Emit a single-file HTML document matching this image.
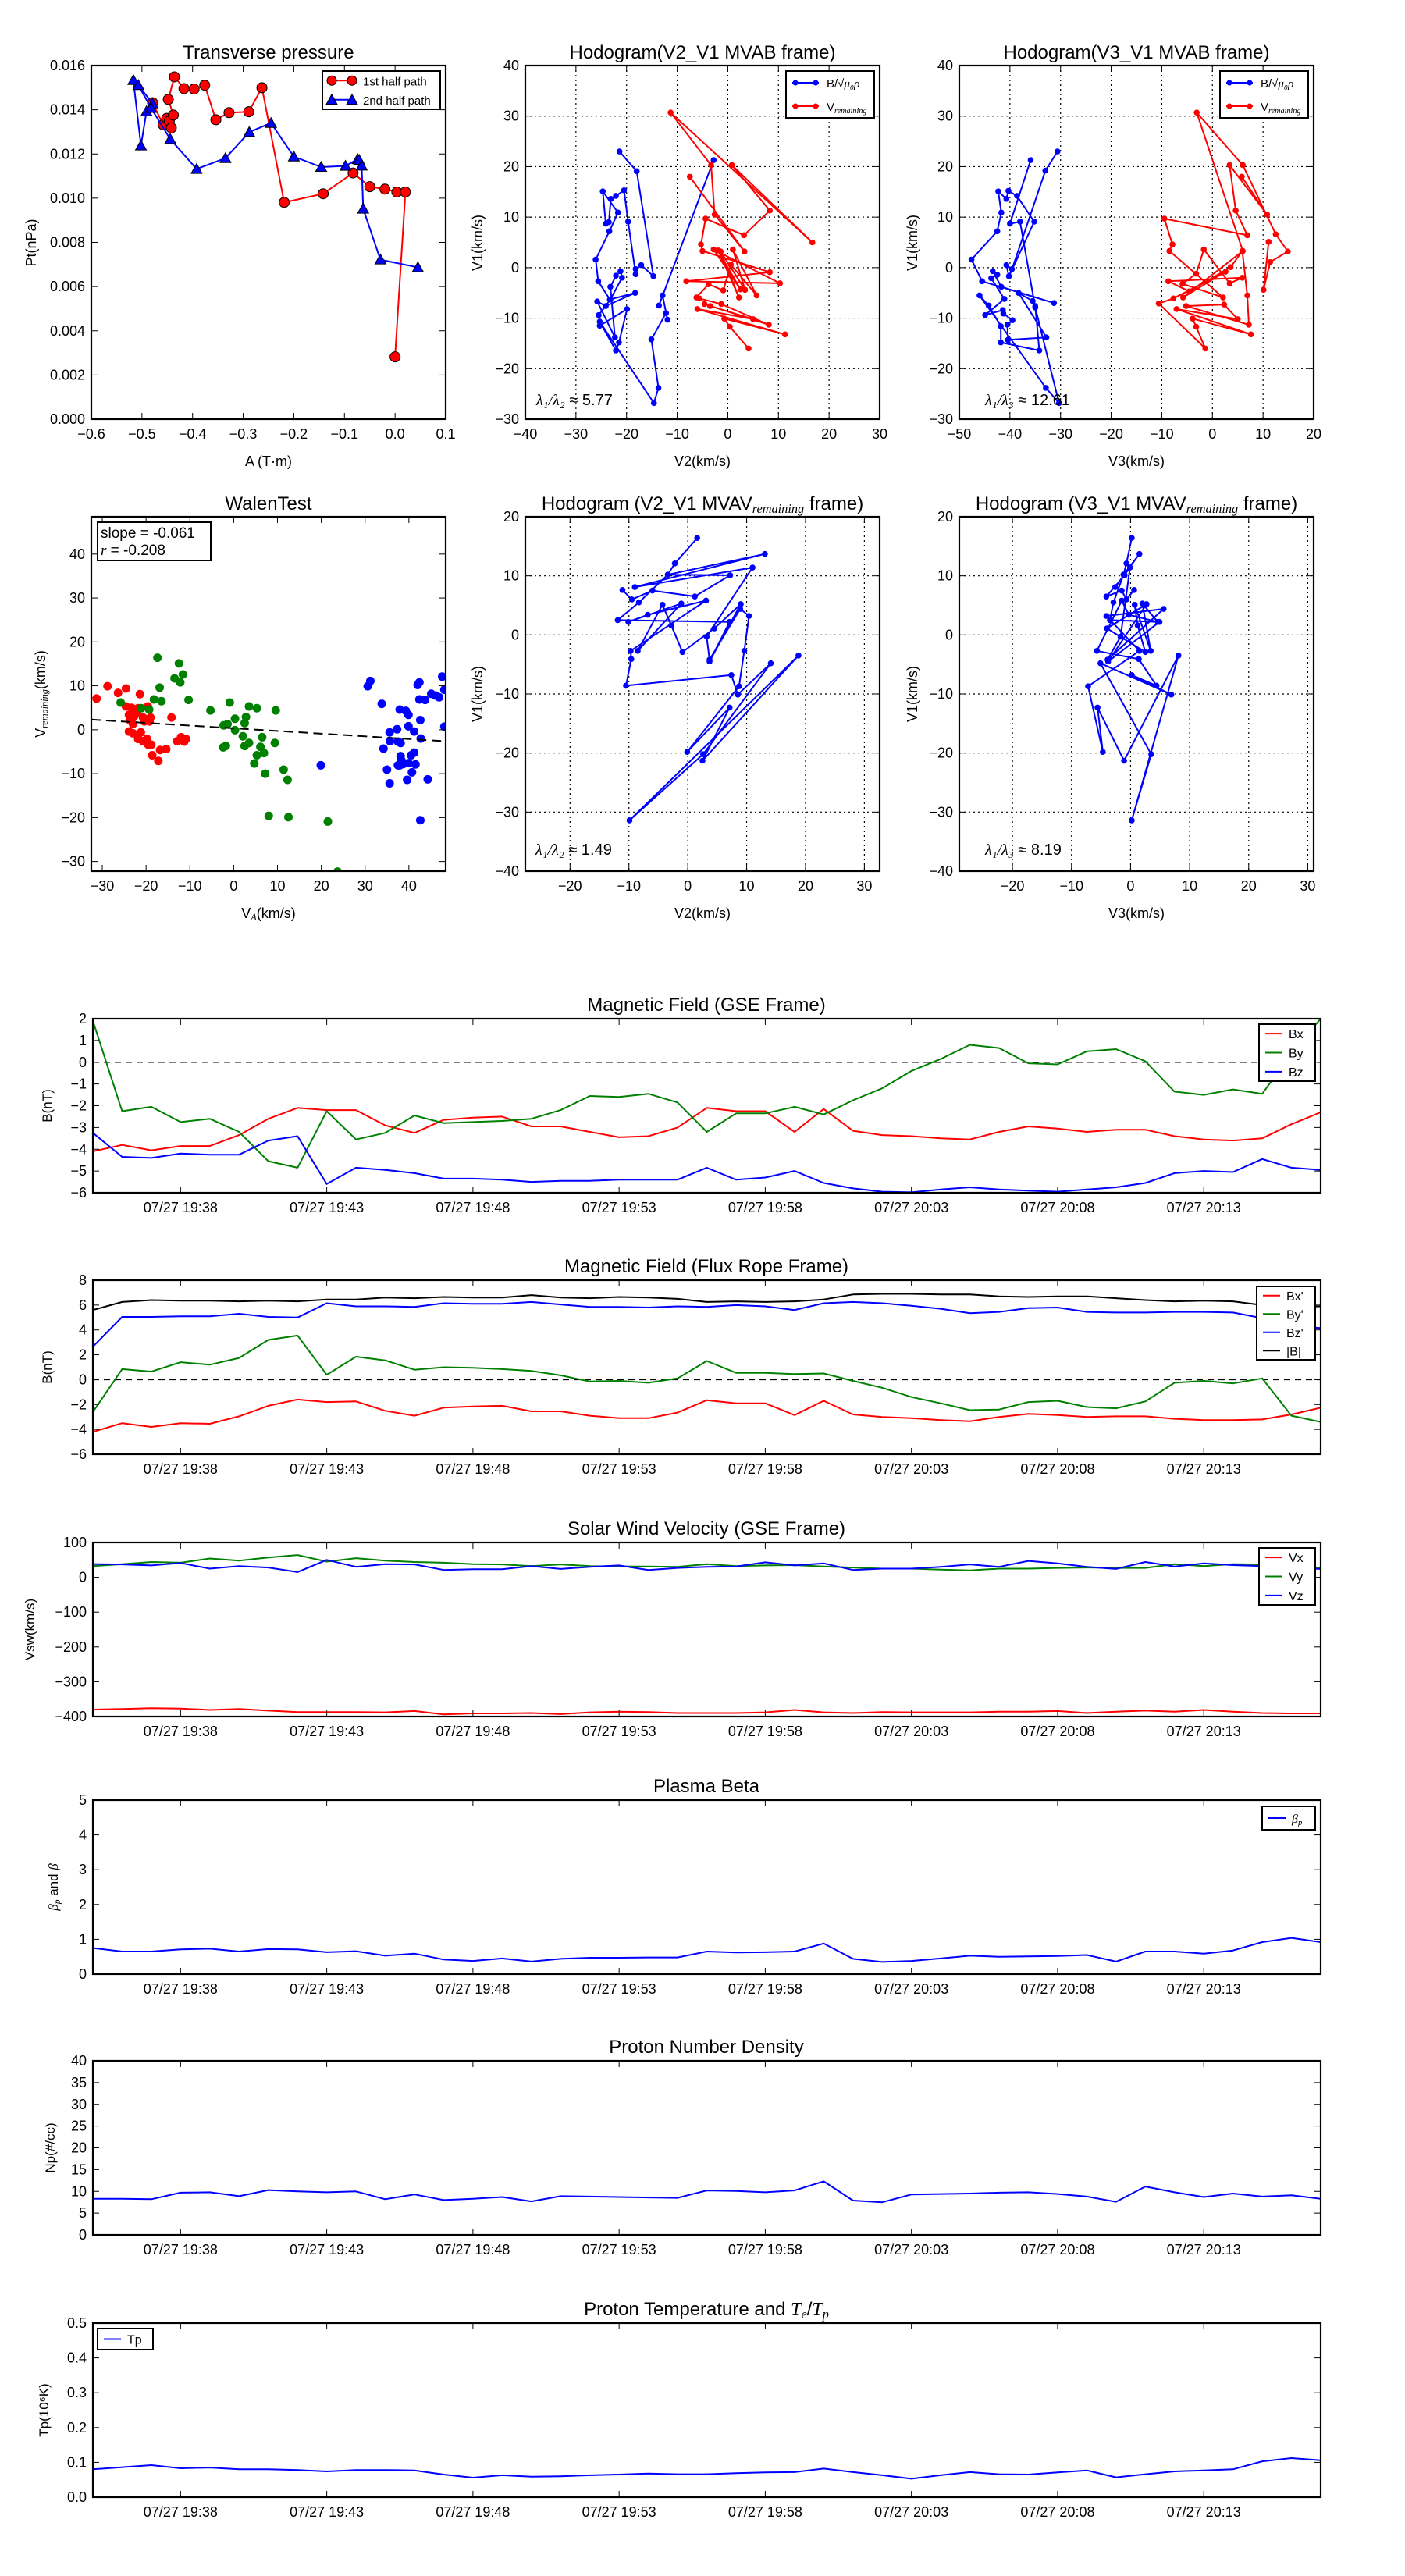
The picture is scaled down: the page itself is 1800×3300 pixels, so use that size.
<!DOCTYPE html>
<html><head><meta charset="utf-8"><title>Flux rope analysis</title>
<style>html,body{margin:0;padding:0;background:#fff}svg{display:block}</style></head>
<body>
<svg id="fig" xmlns="http://www.w3.org/2000/svg" width="1800" height="3300" viewBox="0 0 1800 3300" style="background:#fff"><defs id="defs"></defs></svg>
<script>
// ---------- DATA ----------
const tsTimes=['07/27 19:38','07/27 19:43','07/27 19:48','07/27 19:53','07/27 19:58','07/27 20:03','07/27 20:08','07/27 20:13'];
const tsTickIdx=[3,8,13,18,23,28,33,38];
const gseBx=[-4.1,-3.8,-4.05,-3.85,-3.85,-3.35,-2.6,-2.1,-2.2,-2.2,-2.9,-3.25,-2.65,-2.55,-2.5,-2.95,-2.95,-3.2,-3.45,-3.4,-3.0,-2.1,-2.25,-2.25,-3.2,-2.15,-3.15,-3.35,-3.4,-3.5,-3.55,-3.2,-2.95,-3.05,-3.2,-3.1,-3.1,-3.4,-3.55,-3.6,-3.5,-2.85,-2.3];
const gseBy=[1.9,-2.25,-2.05,-2.75,-2.6,-3.2,-4.55,-4.85,-2.25,-3.55,-3.25,-2.45,-2.8,-2.75,-2.7,-2.6,-2.2,-1.55,-1.6,-1.45,-1.85,-3.2,-2.35,-2.35,-2.05,-2.4,-1.75,-1.2,-0.4,0.15,0.8,0.65,-0.05,-0.1,0.5,0.6,0.05,-1.35,-1.5,-1.25,-1.45,0.4,2.0];
const gseBz=[-3.25,-4.35,-4.4,-4.2,-4.25,-4.25,-3.6,-3.4,-5.6,-4.85,-4.95,-5.1,-5.35,-5.35,-5.4,-5.5,-5.45,-5.45,-5.4,-5.4,-5.4,-4.85,-5.4,-5.3,-5.0,-5.55,-5.8,-5.95,-5.98,-5.85,-5.75,-5.85,-5.9,-5.95,-5.85,-5.75,-5.55,-5.1,-5.0,-5.05,-4.45,-4.85,-4.95];
const frBx=[-4.2,-3.5,-3.8,-3.5,-3.55,-2.95,-2.1,-1.6,-1.8,-1.75,-2.5,-2.9,-2.25,-2.15,-2.1,-2.55,-2.55,-2.9,-3.1,-3.1,-2.65,-1.65,-1.9,-1.9,-2.85,-1.7,-2.8,-3.0,-3.1,-3.25,-3.35,-3.0,-2.75,-2.85,-3.0,-2.95,-2.95,-3.15,-3.25,-3.25,-3.2,-2.8,-2.25];
const frBy=[-2.6,0.85,0.65,1.4,1.2,1.75,3.2,3.55,0.4,1.85,1.55,0.8,1.0,0.95,0.85,0.7,0.35,-0.15,-0.1,-0.25,0.1,1.5,0.55,0.55,0.45,0.5,-0.1,-0.65,-1.4,-1.9,-2.45,-2.4,-1.8,-1.7,-2.2,-2.3,-1.75,-0.25,-0.1,-0.3,0.1,-2.9,-3.4];
const frBz=[2.65,5.05,5.05,5.1,5.1,5.3,5.05,5.0,6.15,5.9,5.9,5.85,6.15,6.1,6.1,6.25,6.05,5.85,5.85,5.8,5.9,5.85,6.0,5.9,5.6,6.15,6.25,6.15,5.95,5.7,5.35,5.45,5.75,5.8,5.45,5.4,5.4,5.45,5.45,5.4,4.95,4.3,4.15];
const frBt=[5.6,6.25,6.4,6.35,6.35,6.3,6.35,6.3,6.45,6.45,6.6,6.55,6.65,6.6,6.6,6.8,6.6,6.55,6.65,6.6,6.5,6.25,6.3,6.25,6.3,6.45,6.85,6.9,6.9,6.85,6.85,6.7,6.65,6.7,6.7,6.55,6.4,6.3,6.35,6.3,6.0,5.85,5.9];
const velVx=[-380,-378,-376,-377,-381,-378,-383,-387,-387,-387,-388,-384,-394,-391,-391,-390,-393,-388,-386,-387,-390,-390,-390,-388,-381,-388,-390,-387,-388,-388,-388,-386,-386,-384,-390,-386,-383,-386,-381,-386,-390,-391,-391];
const velVy=[32,38,44,42,54,48,57,64,45,55,48,44,42,38,37,32,37,32,31,31,30,38,32,34,35,31,28,25,25,22,20,25,25,27,28,27,27,38,32,38,37,34,27];
const velVz=[38,37,34,41,25,32,28,15,50,30,38,37,21,23,23,32,24,30,34,21,27,30,31,43,34,40,21,25,25,30,37,30,47,40,30,24,44,31,40,35,32,27,24];
const betaP=[0.75,0.65,0.65,0.71,0.73,0.65,0.72,0.71,0.63,0.66,0.53,0.59,0.42,0.38,0.45,0.36,0.44,0.47,0.47,0.48,0.48,0.65,0.62,0.63,0.65,0.88,0.44,0.35,0.38,0.45,0.53,0.5,0.51,0.52,0.55,0.36,0.65,0.65,0.59,0.68,0.92,1.04,0.92];
const densNp=[8.3,8.3,8.2,9.7,9.8,8.9,10.3,10.0,9.8,10.0,8.2,9.3,8.0,8.3,8.7,7.7,8.9,8.8,8.7,8.6,8.5,10.2,10.1,9.8,10.2,12.3,7.9,7.5,9.3,9.4,9.5,9.7,9.8,9.4,8.8,7.6,11.1,9.8,8.7,9.5,8.8,9.1,8.3];
const tempTp=[0.080,0.086,0.092,0.083,0.085,0.080,0.080,0.078,0.074,0.078,0.078,0.077,0.065,0.056,0.063,0.059,0.060,0.063,0.065,0.068,0.066,0.066,0.069,0.071,0.072,0.082,0.072,0.063,0.053,0.063,0.072,0.066,0.065,0.071,0.077,0.057,0.066,0.074,0.077,0.080,0.103,0.112,0.106];

const tp1A=[-0.479,-0.458,-0.451,-0.446,-0.442,-0.438,-0.448,-0.436,-0.417,-0.397,-0.376,-0.354,-0.328,-0.289,-0.263,-0.219,-0.142,-0.083,-0.050,-0.020,0.0035,0.0204,0.0];
const tp1P=[0.01432,0.01332,0.01361,0.01349,0.01318,0.01376,0.01447,0.01549,0.01496,0.01494,0.01511,0.01355,0.01387,0.01391,0.01500,0.00981,0.01020,0.01114,0.01052,0.01041,0.01028,0.01028,0.00282];
const tp2A=[-0.517,-0.502,-0.491,-0.479,-0.507,-0.482,-0.444,-0.392,-0.335,-0.288,-0.245,-0.200,-0.146,-0.098,-0.074,-0.071,-0.066,-0.063,-0.029,0.045];
const tp2P=[0.01534,0.01238,0.01393,0.01428,0.01511,0.01408,0.01267,0.01132,0.01181,0.01299,0.01340,0.01188,0.01141,0.01146,0.01176,0.01173,0.01147,0.00952,0.00722,0.00687];

const h1Bx=[-21.4,-18.0,-14.7,-17.1,-18.2,-18.2,-19.7,-20.5,-22.1,-23.1,-23.5,-24.1,-24.7,-21.7,-23.4,-26.1,-25.6,-23.3,-18.3,-24.1,-25.8,-22.3,-23.2,-22.1,-21.2,-20.9,-23.2,-25.5,-25.3,-19.9,-21.5,-22.1,-25.3,-14.6,-13.7,-15.1,-12.2,-11.9,-12.9,-13.6,-2.8];
const h1By=[23.0,19.1,-1.7,0.5,-0.3,-1.3,9.1,15.3,14.2,13.6,9.0,8.7,15.1,10.9,7.2,1.6,-2.7,-6.3,-5.0,-7.6,-6.7,-13.8,-3.8,-1.6,-0.7,-2.0,-6.3,-9.4,-11.5,-8.2,-14.8,-16.4,-10.7,-26.8,-23.8,-14.2,-9.0,-10.3,-5.5,-7.5,21.3];
const h1Vx=[-7.5,3.3,-2.6,-3.3,-11.3,16.7,0.8,8.3,3.2,-4.4,-5.3,-5.0,8.3,-8.2,10.3,-2.8,2.5,-1.9,2.2,-1.4,3.4,1.0,5.7,0.6,-0.9,-3.8,-6.2,-5.6,-1.3,8.1,-4.6,-3.5,5.0,-6.0,11.3,-0.7,0.4,4.1];
const h1Vy=[18.0,3.2,10.5,20.3,30.7,5.0,20.3,11.3,6.4,9.7,4.6,3.3,-0.9,-2.7,-3.1,3.6,-4.3,3.4,-5.9,3.2,-4.4,3.6,-5.5,0.6,-4.5,-3.3,-5.9,-6.1,-7.2,-11.3,-7.2,-7.6,-10.2,-8.2,-13.2,-10.1,-11.7,-16.0];
const h2Bx=[-30.6,-33.0,-39.6,-40.7,-40.2,-35.2,-38.6,-40.3,-40.7,-42.3,-41.7,-42.5,-47.6,-45.5,-31.3,-41.7,-43.4,-42.5,-43.7,-41.1,-44.9,-41.4,-41.3,-39.5,-40.5,-40.4,-32.8,-38.3,-35.5,-35.0,-34.2,-41.8,-41.8,-44.2,-46.0,-32.9,-30.3,-35.0,-38.0,-40.0,-35.9];
const h2By=[23.0,19.2,-0.3,0.5,-1.7,9.1,14.2,15.2,13.6,15.1,10.9,7.2,1.6,-2.7,-7.0,-3.8,-0.7,-1.4,-2.1,-6.2,-9.4,-8.4,-9.1,-10.4,-11.3,-14.3,-13.8,-5.0,-6.6,-7.6,-16.4,-14.8,-11.6,-7.5,-5.5,-23.8,-26.8,-7.9,9.1,8.7,21.3];
const h2Vx=[5.8,10.8,3.4,4.6,6.9,-9.5,-7.9,-8.5,2.1,-5.9,-3.2,-1.7,3.4,5.9,-8.7,-4.6,3.6,5.9,6.9,7.2,-5.2,2.3,5.0,-7.1,7.6,-3.9,-3.2,-1.4,-10.6,-7.7,2.6,-5.8,6.0,-3.1,6.0,12.5,14.9,11.4,10.1,11.1];
const h2Vy=[18.0,10.5,20.3,11.3,6.4,9.7,4.6,3.3,-5.9,-3.2,-1.2,3.6,-3.1,-2.0,-2.7,-4.7,0.1,3.3,-5.5,-11.3,-7.6,-7.3,-10.2,-8.2,-13.2,-10.1,-11.7,-16.0,-7.1,-6.1,-0.8,-5.9,3.3,30.7,20.3,6.6,3.2,1.1,-4.4,5.1];
const h3X=[1.6,-2.2,-3.4,-8.3,-11.9,7.1,3.7,9.0,4.5,-0.9,-2.8,-4.3,-8.5,-1.1,-10.1,-6.8,3.1,-9.7,-9.6,-10.5,7.4,8.5,14.1,2.6,-9.9,18.8,2.5,7.1,-0.1,8.7,9.6,10.4,8.9,3.7,3.2,11.0,-9.0,13.1,-3.4,7.2,1.2,-6.0,-9.5,-11.1];
const h3Y=[16.4,12.1,10.2,5.5,2.5,2.2,-4.5,5.2,1.1,-2.9,1.6,5.1,-2.7,5.3,2.2,3.4,5.8,-2.7,-4.1,-8.6,-6.8,-10.1,-4.8,-20.2,-31.4,-3.5,-21.3,-12.3,-19.8,-8.7,-2.7,3.2,4.4,-4.2,-0.3,11.4,8.1,13.7,10.2,10.1,6.5,7.5,6.0,7.6];
const h4X=[0.2,-0.7,-1.2,-2.9,-3.5,4.9,-3.8,2.7,-4.0,2.5,1.2,0.7,3.4,2.0,4.6,-0.3,-1.5,-5.7,1.4,4.4,0.2,6.9,-5.1,3.5,0.2,8.1,-1.1,-5.6,-4.7,-7.2,1.5,-4.1,5.6,-3.9,-1.7,-0.1,-2.6,1.5,-1.2,-1.0,-4.1,-1.5,-0.7,0.6];
const h4Y=[16.4,12.1,10.2,5.5,2.5,2.2,-4.5,5.2,1.1,-2.9,1.6,5.1,-2.7,5.3,2.2,3.4,5.8,-2.7,-4.1,-8.6,-6.8,-10.1,-4.8,-20.2,-31.4,-3.5,-21.3,-12.3,-19.8,-8.7,-2.7,3.2,4.4,-4.2,-0.3,11.4,8.1,13.7,10.2,10.1,6.5,7.5,6.0,7.6];

const walRx=[-31.3,-28.8,-26.4,-24.6,-21.4,-24.6,-23.3,-21.8,-19.6,-23.9,-22.7,-20.7,-19.0,-23.7,-22.1,-23.0,-19.2,-14.2,-23.9,-23.0,-21.2,-21.8,-19.8,-20.7,-19.5,-18.8,-18.6,-17.2,-16.8,-15.4,-12.9,-12.0,-10.9,-11.3,-20.4];
const walRy=[7.1,9.9,8.4,9.4,8.1,5.3,5.0,4.9,5.3,3.4,3.1,2.8,2.8,2.2,4.0,1.3,1.9,2.8,-0.4,-0.8,-0.6,-2.1,-2.1,-2.6,-3.4,-3.4,-5.8,-7.1,-4.6,-4.4,-2.6,-1.7,-2.1,-2.7,1.9];
const walGx=[-25.8,-21.1,-19.3,-18.2,-16.5,-17.4,-16.9,-13.5,-12.5,-11.6,-12.2,-10.3,-5.3,-0.9,0.3,2.8,2.5,3.5,5.3,9.6,-2.3,-1.4,0.3,2.1,6.5,9.4,-2.4,-1.8,2.5,3.5,6.1,6.9,5.3,4.7,7.2,11.4,12.3,8.0,12.5,21.5,23.7];
const walGy=[6.2,4.9,4.6,6.9,6.5,16.4,9.6,11.7,15.1,12.6,10.8,6.8,4.4,6.2,2.5,2.9,1.5,5.3,4.9,4.4,1.0,1.3,-0.1,-1.5,-1.7,-3.0,-4.0,-3.7,-3.7,-3.0,-3.9,-5.3,-5.8,-7.7,-10.0,-9.1,-11.4,-19.6,-19.9,-20.9,-32.3];
const walBx=[30.6,31.2,33.8,37.9,39.3,39.9,42.6,39.9,41.2,37.3,35.6,35.7,37.5,38.1,34.2,42.7,38.1,40.5,41.2,37.9,38.3,39.9,41.5,40.7,39.6,44.3,35.0,35.6,42.6,42.0,42.4,42.4,43.7,45.1,46.1,46.9,47.6,48.1,48.1,19.9,37.5,38.7];
const walBy=[9.9,11.1,5.9,4.6,4.3,3.4,2.2,0.8,-0.4,0.1,-0.6,-2.6,-2.7,-3.0,-4.3,-2.0,-6.0,-5.8,-5.2,-8.1,-7.0,-7.6,-7.9,-9.7,-11.4,-11.3,-9.1,-12.2,-20.6,10.2,10.8,6.9,6.8,8.2,7.8,7.4,12.1,9.1,0.7,-8.1,-8.1,-7.8];
const walFit=[-0.061,0.33];

// ---------- HELPERS ----------
const NS='http://www.w3.org/2000/svg';
const svg=document.getElementById('fig');
const defs=document.getElementById('defs');
const FONT="'Liberation Sans','DejaVu Sans',sans-serif";
let clipN=0;
function mk(tag,parent,name){
  const e=document.createElementNS(NS,tag);
  
  
  parent.appendChild(e);
  return e;
}
function at(e,o){for(const k in o)e.setAttribute(k,o[k]);return e;}
function txt(parent,name,x,y,parts,size,anchor,rot,weight){
  const t=mk('text',parent,name);
  at(t,{x:x,y:y,'font-family':FONT,'font-size':size,'text-anchor':anchor||'middle',fill:'#000'});
  if(rot) t.setAttribute('transform','rotate('+rot+' '+x+' '+y+')');
  if(typeof parts==='string') parts=[{t:parts}];
  parts.forEach(p=>{
    const s=mk('tspan',t,'text-part');
    if(p.sub){s.setAttribute('baseline-shift','-25%');s.setAttribute('font-size',size*0.68);}
    if(p.it){s.setAttribute('font-style','italic');s.setAttribute('font-family',"'Liberation Serif',serif");}
    s.textContent=p.t;
  });
  return t;
}
function fmtNum(v,d){const s=v.toFixed(d);return s.replace('-','\u2212');}
function axes(name,box,xd,yd,xt,xl,yt,yl,grid){
  const [L,T,R,B]=box;
  const g=mk('g',svg,name);
  const sx=v=>L+(v-xd[0])/(xd[1]-xd[0])*(R-L);
  const sy=v=>B-(v-yd[0])/(yd[1]-yd[0])*(B-T);
  const gg=mk('g',g,'grid');
  if(grid){
    xt.forEach(v=>{const l=mk('line',gg,'grid-line-x');at(l,{x1:sx(v),x2:sx(v),y1:T,y2:B,stroke:'#000','stroke-width':1.2,'stroke-dasharray':'2,4'});});
    yt.forEach(v=>{const l=mk('line',gg,'grid-line-y');at(l,{x1:L,x2:R,y1:sy(v),y2:sy(v),stroke:'#000','stroke-width':1.2,'stroke-dasharray':'2,4'});});
  }
  const cid='clip'+(clipN++);
  const cp=mk('clipPath',defs,'clip');cp.setAttribute('id',cid);
  const cr=mk('rect',cp,'clip-rect');at(cr,{x:L,y:T,width:R-L,height:B-T});
  const dg=mk('g',g,'data-layer');dg.setAttribute('clip-path','url(#'+cid+')');
  const fg=mk('g',g,'axis-frame');
  xt.forEach((v,i)=>{
    const x=sx(v);
    const a=mk('line',fg,'x-tick');at(a,{x1:x,x2:x,y1:B,y2:B-8,stroke:'#000','stroke-width':1});
    const b=mk('line',fg,'x-tick');at(b,{x1:x,x2:x,y1:T,y2:T+8,stroke:'#000','stroke-width':1});
    txt(fg,'x-tick-label',x,B+25,xl[i],18,'middle');
  });
  yt.forEach((v,i)=>{
    const y=sy(v);
    const a=mk('line',fg,'y-tick');at(a,{x1:L,x2:L+8,y1:y,y2:y,stroke:'#000','stroke-width':1});
    const b=mk('line',fg,'y-tick');at(b,{x1:R,x2:R-8,y1:y,y2:y,stroke:'#000','stroke-width':1});
    txt(fg,'y-tick-label',L-8,y+6,yl[i],18,'end');
  });
  const fr=mk('rect',fg,'plot-frame');at(fr,{x:L,y:T,width:R-L,height:B-T,fill:'none',stroke:'#000','stroke-width':2.2});
  return {g,dg,fg,sx,sy,L,T,R,B};
}
function series(ax,name,xs,ys,color,w,dash){
  const p=mk('polyline',ax.dg,name);
  const pts=xs.map((x,i)=>ax.sx(x).toFixed(1)+','+ax.sy(ys[i]).toFixed(1)).join(' ');
  at(p,{points:pts,fill:'none',stroke:color,'stroke-width':w||2,'stroke-linejoin':'round'});
  if(dash)p.setAttribute('stroke-dasharray',dash);
  return p;
}
function dots(ax,name,xs,ys,color,r,edge){
  xs.forEach((x,i)=>{
    const c=mk('circle',ax.dg,name);
    at(c,{cx:ax.sx(x),cy:ax.sy(ys[i]),r:r,fill:color,stroke:edge||'none','stroke-width':edge?1:0});
  });
}
function tris(ax,name,xs,ys,color,s){
  xs.forEach((x,i)=>{
    const cx=ax.sx(x),cy=ax.sy(ys[i]);
    const p=mk('polygon',ax.dg,name);
    at(p,{points:(cx)+','+(cy-s)+' '+(cx-s)+','+(cy+s*0.8)+' '+(cx+s)+','+(cy+s*0.8),fill:color,stroke:'#000','stroke-width':1});
  });
}
function legend(name,x,y,w,h,items,fs){
  const g=mk('g',svg,name);
  const r=mk('rect',g,'legend-box');at(r,{x:x,y:y,width:w,height:h,fill:'#fff',stroke:'#000','stroke-width':2});
  const rh=h/items.length;
  items.forEach((it,i)=>{
    const cy=y+rh*(i+0.5);
    const ln=mk('line',g,'legend-swatch');at(ln,{x1:x+8,x2:x+(it.m?42:30),y1:cy,y2:cy,stroke:it.c,'stroke-width':2});
    if(it.m==='o'||it.m==='d'){[x+12,x+38].forEach(mx=>{const c=mk('circle',g,'legend-marker');at(c,{cx:mx,cy:cy,r:it.m==='o'?6:3.5,fill:it.c,stroke:it.m==='o'?'#000':'none'});});}
    if(it.m==='^'){[x+12,x+38].forEach(mx=>{const p=mk('polygon',g,'legend-marker');at(p,{points:mx+','+(cy-7)+' '+(mx-7)+','+(cy+6)+' '+(mx+7)+','+(cy+6),fill:it.c,stroke:'#000'});});}
    txt(g,'legend-label',x+(it.m?52:38),cy+6,it.l,fs||16,'start');
  });
}
const idx=gseBx.map((_,i)=>i);
const tickLab=v=>v.map(x=>fmtNum(x,0));

// ---------- TRANSVERSE PRESSURE ----------
(function(){
  const xt=[-0.6,-0.5,-0.4,-0.3,-0.2,-0.1,0.0,0.1];
  const yt=[0,0.002,0.004,0.006,0.008,0.010,0.012,0.014,0.016];
  const ax=axes('transverse-pressure-chart',[117,84,571,537],[-0.6,0.1],[0,0.016],xt,xt.map(v=>fmtNum(v,1)),yt,yt.map(v=>v.toFixed(3)),false);
  txt(svg,'chart-title',344,75,'Transverse pressure',24);
  txt(svg,'x-axis-title',344,597,'A (T\u00b7m)',18);
  txt(svg,'y-axis-title',46,311,'Pt(nPa)',18,'middle',-90);
  series(ax,'first-half-line',tp1A,tp1P,'#ff0000',2);
  dots(ax,'first-half-point',tp1A,tp1P,'#ff0000',6.5,'#000');
  series(ax,'second-half-line',tp2A,tp2P,'#0000ff',2);
  tris(ax,'second-half-point',tp2A,tp2P,'#0000ff',7);
  legend('pressure-legend',413,91,151,49,[{c:'#ff0000',l:'1st half path',m:'o'},{c:'#0000ff',l:'2nd half path',m:'^'}],15);
})();

function bLabel(){return [{t:'B/\u221a'},{t:'\u03bc\u2080\u03c1',it:true}];}
function vrLabel(){return [{t:'V'},{t:'remaining',sub:true,it:true}];}

// ---------- HODOGRAM 1 ----------
(function(){
  const xt=[-40,-30,-20,-10,0,10,20,30], yt=[-30,-20,-10,0,10,20,30,40];
  const ax=axes('hodogram-v2-v1-mvab',[673,84,1127,537],[-40,30],[-30,40],xt,tickLab(xt),yt,tickLab(yt),true);
  txt(svg,'chart-title',900,75,'Hodogram(V2_V1 MVAB frame)',24);
  txt(svg,'x-axis-title',900,597,'V2(km/s)',18);
  txt(svg,'y-axis-title',618,311,'V1(km/s)',18,'middle',-90);
  series(ax,'b-alfven-line',h1Bx,h1By,'#0000ff',2);dots(ax,'b-alfven-point',h1Bx,h1By,'#0000ff',3.8);
  series(ax,'v-remaining-line',h1Vx,h1Vy,'#ff0000',2);dots(ax,'v-remaining-point',h1Vx,h1Vy,'#ff0000',3.8);
  legend('hodogram1-legend',1007,91,113,60,[{c:'#0000ff',l:bLabel(),m:'d'},{c:'#ff0000',l:vrLabel(),m:'d'}],15);
  txt(svg,'eigen-ratio',687,519,[{t:'\u03bb\u2081/\u03bb\u2082',it:true},{t:' \u2248 5.77'}],20,'start');
})();
// ---------- HODOGRAM 2 ----------
(function(){
  const xt=[-50,-40,-30,-20,-10,0,10,20], yt=[-30,-20,-10,0,10,20,30,40];
  const ax=axes('hodogram-v3-v1-mvab',[1229,84,1683,537],[-50,20],[-30,40],xt,tickLab(xt),yt,tickLab(yt),true);
  txt(svg,'chart-title',1456,75,'Hodogram(V3_V1 MVAB frame)',24);
  txt(svg,'x-axis-title',1456,597,'V3(km/s)',18);
  txt(svg,'y-axis-title',1175,311,'V1(km/s)',18,'middle',-90);
  series(ax,'b-alfven-line',h2Bx,h2By,'#0000ff',2);dots(ax,'b-alfven-point',h2Bx,h2By,'#0000ff',3.8);
  series(ax,'v-remaining-line',h2Vx,h2Vy,'#ff0000',2);dots(ax,'v-remaining-point',h2Vx,h2Vy,'#ff0000',3.8);
  legend('hodogram2-legend',1563,91,113,60,[{c:'#0000ff',l:bLabel(),m:'d'},{c:'#ff0000',l:vrLabel(),m:'d'}],15);
  txt(svg,'eigen-ratio',1262,519,[{t:'\u03bb\u2081/\u03bb\u2083',it:true},{t:' \u2248 12.61'}],20,'start');
})();
// ---------- WALEN ----------
(function(){
  const xt=[-30,-20,-10,0,10,20,30,40], yt=[-30,-20,-10,0,10,20,30,40];
  const ax=axes('walen-test-chart',[117,662,571,1116],[-32.5,48.4],[-32.2,48.5],xt,tickLab(xt),yt,tickLab(yt),false);
  txt(svg,'chart-title',344,653,'WalenTest',24);
  txt(svg,'x-axis-title',344,1176,[{t:'V'},{t:'A',sub:true,it:true},{t:'(km/s)'}],18);
  txt(svg,'y-axis-title',58,889,[{t:'V'},{t:'remaining',sub:true,it:true},{t:'(km/s)'}],18,'middle',-90);
  dots(ax,'walen-point-red',walRx,walRy,'#ff0000',5.5);
  dots(ax,'walen-point-green',walGx,walGy,'#008000',5.5);
  dots(ax,'walen-point-blue',walBx,walBy,'#0000ff',5.5);
  const fx=[-32.5,48.4],fy=fx.map(x=>walFit[0]*x+walFit[1]);
  series(ax,'walen-fit-line',fx,fy,'#000',2,'12,7');
  const g=mk('g',svg,'walen-stats-box');
  const r=mk('rect',g,'stats-frame');at(r,{x:125,y:669,width:145,height:49,fill:'#fff',stroke:'#000','stroke-width':2});
  txt(g,'slope-text',129,689,'slope = -0.061',19,'start');
  txt(g,'r-text',129,711,[{t:'r',it:true},{t:' = -0.208'}],19,'start');
})();
// ---------- HODOGRAM 3 ----------
(function(){
  const xt=[-20,-10,0,10,20,30], yt=[-40,-30,-20,-10,0,10,20];
  const ax=axes('hodogram-v2-v1-mvav',[673,662,1127,1116],[-27.6,32.6],[-40,20],xt,tickLab(xt),yt,tickLab(yt),true);
  txt(svg,'chart-title',900,653,[{t:'Hodogram (V2_V1 MVAV'},{t:'remaining',sub:true,it:true},{t:' frame)'}],24);
  txt(svg,'x-axis-title',900,1176,'V2(km/s)',18);
  txt(svg,'y-axis-title',618,889,'V1(km/s)',18,'middle',-90);
  series(ax,'b-line',h3X,h3Y,'#0000ff',2);dots(ax,'b-point',h3X,h3Y,'#0000ff',3.8);
  txt(svg,'eigen-ratio',686,1095,[{t:'\u03bb\u2081/\u03bb\u2082',it:true},{t:' \u2248 1.49'}],20,'start');
})();
// ---------- HODOGRAM 4 ----------
(function(){
  const xt=[-20,-10,0,10,20,30], yt=[-40,-30,-20,-10,0,10,20];
  const ax=axes('hodogram-v3-v1-mvav',[1229,662,1683,1116],[-29.0,31.0],[-40,20],xt,tickLab(xt),yt,tickLab(yt),true);
  txt(svg,'chart-title',1456,653,[{t:'Hodogram (V3_V1 MVAV'},{t:'remaining',sub:true,it:true},{t:' frame)'}],24);
  txt(svg,'x-axis-title',1456,1176,'V3(km/s)',18);
  txt(svg,'y-axis-title',1175,889,'V1(km/s)',18,'middle',-90);
  series(ax,'b-line',h4X,h4Y,'#0000ff',2);dots(ax,'b-point',h4X,h4Y,'#0000ff',3.8);
  txt(svg,'eigen-ratio',1262,1095,[{t:'\u03bb\u2081/\u03bb\u2083',it:true},{t:' \u2248 8.19'}],20,'start');
})();

// ---------- TIME SERIES ----------
function tsPanel(name,T,B,yd,yt,ylab,title,ylx,yfmt){
  const ax=axes(name,[119,T,1692,B],[0,42],yd,tsTickIdx,tsTimes,yt,yt.map(yfmt),false);
  txt(svg,'chart-title',905,T-10,title,24);
  txt(svg,'y-axis-title',ylx,(T+B)/2,ylab,17,'middle',-90);
  return ax;
}
(function(){
  const yt=[-6,-5,-4,-3,-2,-1,0,1,2];
  const ax=tsPanel('magnetic-field-gse-chart',1305,1528,[-6,2],yt,'B(nT)','Magnetic Field (GSE Frame)',66,v=>fmtNum(v,0));
  series(ax,'zero-line',[0,42],[0,0],'#000',1.5,'8,6');
  series(ax,'bx-line',idx,gseBx,'#ff0000',2);
  series(ax,'by-line',idx,gseBy,'#008000',2);
  series(ax,'bz-line',idx,gseBz,'#0000ff',2);
  legend('gse-legend',1613,1312,72,73,[{c:'#ff0000',l:'Bx'},{c:'#008000',l:'By'},{c:'#0000ff',l:'Bz'}],16);
})();
(function(){
  const yt=[-6,-4,-2,0,2,4,6,8];
  const ax=tsPanel('magnetic-field-flux-rope-chart',1640,1863,[-6,8],yt,'B(nT)','Magnetic Field (Flux Rope Frame)',66,v=>fmtNum(v,0));
  series(ax,'zero-line',[0,42],[0,0],'#000',1.5,'8,6');
  series(ax,'bx-prime-line',idx,frBx,'#ff0000',2);
  series(ax,'by-prime-line',idx,frBy,'#008000',2);
  series(ax,'bz-prime-line',idx,frBz,'#0000ff',2);
  series(ax,'b-magnitude-line',idx,frBt,'#000',2);
  legend('flux-rope-legend',1610,1648,75,94,[{c:'#ff0000',l:"Bx'"},{c:'#008000',l:"By'"},{c:'#0000ff',l:"Bz'"},{c:'#000',l:'|B|'}],16);
})();
(function(){
  const yt=[-400,-300,-200,-100,0,100];
  const ax=tsPanel('solar-wind-velocity-chart',1976,2199,[-400,100],yt,'Vsw(km/s)','Solar Wind Velocity (GSE Frame)',44,v=>fmtNum(v,0));
  series(ax,'vx-line',idx,velVx,'#ff0000',2);
  series(ax,'vy-line',idx,velVy,'#008000',2);
  series(ax,'vz-line',idx,velVz,'#0000ff',2);
  legend('velocity-legend',1613,1983,72,73,[{c:'#ff0000',l:'Vx'},{c:'#008000',l:'Vy'},{c:'#0000ff',l:'Vz'}],16);
})();
(function(){
  const yt=[0,1,2,3,4,5];
  const ax=tsPanel('plasma-beta-chart',2306,2529,[0,5],yt,[{t:'\u03b2',it:true},{t:'p',sub:true,it:true},{t:' and '},{t:'\u03b2',it:true}],'Plasma Beta',74,v=>fmtNum(v,0));
  series(ax,'beta-p-line',idx,betaP,'#0000ff',2);
  legend('beta-legend',1617,2314,68,30,[{c:'#0000ff',l:[{t:'\u03b2',it:true},{t:'p',sub:true,it:true}]}],16);
})();
(function(){
  const yt=[0,5,10,15,20,25,30,35,40];
  const ax=tsPanel('proton-density-chart',2640,2863,[0,40],yt,'Np(#/cc)','Proton Number Density',70,v=>fmtNum(v,0));
  series(ax,'np-line',idx,densNp,'#0000ff',2);
})();
(function(){
  const yt=[0,0.1,0.2,0.3,0.4,0.5];
  const ax=tsPanel('proton-temperature-chart',2976,3199,[0,0.5],yt,'Tp(10\u2076K)',[{t:'Proton Temperature and '},{t:'T',it:true},{t:'e',sub:true,it:true},{t:'/'},{t:'T',it:true},{t:'p',sub:true,it:true}],62,v=>v.toFixed(1));
  series(ax,'tp-line',idx,tempTp,'#0000ff',2);
  legend('tp-legend',125,2983,71,27,[{c:'#0000ff',l:'Tp'}],16);
})();
</script>
</body></html>
